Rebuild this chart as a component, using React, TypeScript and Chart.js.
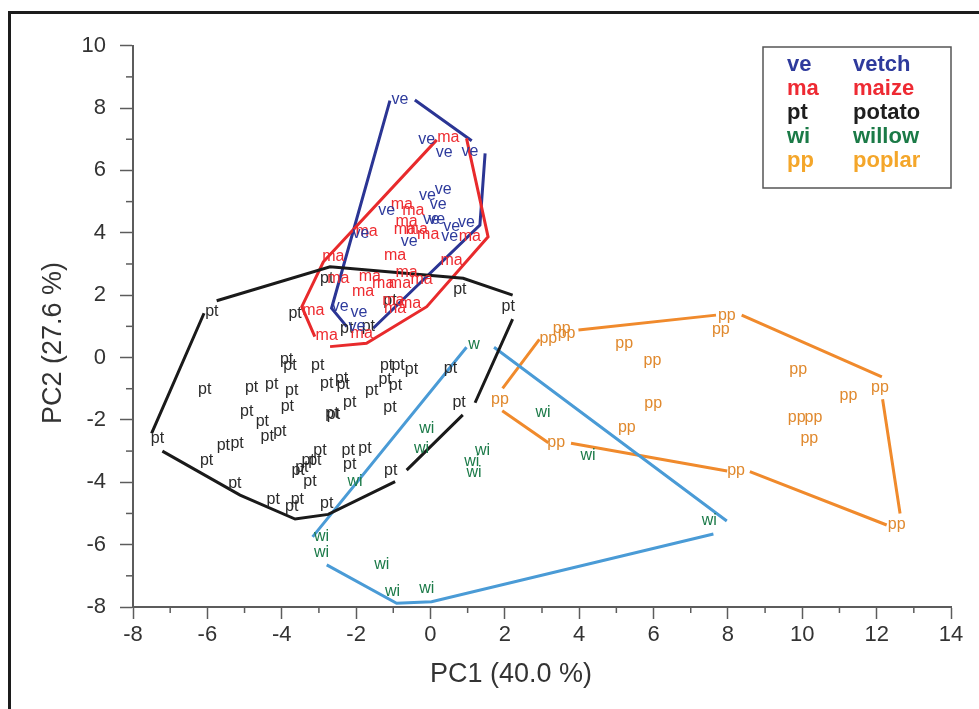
import React, { useEffect, useRef } from "react";
import { Chart, registerables } from "chart.js";

Chart.register(...registerables);

type P = [number, number];

// Axis ranges / ticks
const xRange = [-8, 14];
const yRange = [-8, 10];
const tickStep = 2;

// Legend entries
const legendCodes = ["ve", "ma", "pt", "wi", "pp"];
const legendNames = ["vetch", "maize", "potato", "willow", "poplar"];
const legendColors = ["#2e3a9c", "#ee2a33", "#1e1e1e", "#1b7a47", "#f4a62a"];

// Sample scores (PC1, PC2)
const vetchPts: P[] = [
  [-0.82, 8.26], [-0.10, 7.00], [0.37, 6.57], [1.06, 6.60], [0.34, 5.37], [-0.08, 5.18],
  [0.21, 4.92], [-1.18, 4.71], [0.03, 4.43], [0.17, 4.43], [0.57, 4.19], [0.97, 4.32],
  [0.52, 3.87], [-0.57, 3.71], [-1.87, 3.96], [-2.43, 1.63], [-1.92, 1.45], [-1.98, 0.99],
];
const maizePts: P[] = [
  [0.48, 7.06], [-0.77, 4.92], [-0.46, 4.71], [-0.64, 4.36], [-0.69, 4.11], [-0.37, 4.09],
  [-0.06, 3.93], [1.06, 3.87], [-1.72, 4.03], [-2.61, 3.23], [-0.95, 3.26], [0.57, 3.10],
  [-2.48, 2.54], [-1.63, 2.59], [-0.64, 2.72], [-1.27, 2.36], [-0.82, 2.36], [-0.24, 2.49],
  [-1.81, 2.11], [-1.00, 1.84], [-0.55, 1.74], [-0.95, 1.58], [-3.15, 1.52], [-2.79, 0.70],
  [-1.85, 0.78],
];
const potatoPts: P[] = [
  [-2.79, 2.54], [0.79, 2.19], [2.09, 1.63], [-5.88, 1.47], [-3.64, 1.42], [-1.09, 1.84],
  [-2.25, 0.94], [-1.67, 0.99], [-3.87, -0.08], [-3.78, -0.27], [-3.03, -0.27], [-1.18, -0.27],
  [-0.87, -0.27], [-0.51, -0.40], [0.54, -0.34], [-6.07, -1.04], [-4.81, -0.97], [-4.27, -0.86],
  [-3.73, -1.07], [-2.79, -0.85], [-2.39, -0.66], [-2.35, -0.88], [-1.22, -0.72], [-0.94, -0.89],
  [-1.58, -1.07], [-4.94, -1.73], [-3.85, -1.58], [-2.61, -1.84], [-2.65, -1.81], [-2.17, -1.44],
  [-1.09, -1.62], [0.77, -1.45], [-4.52, -2.06], [-4.39, -2.52], [-4.05, -2.38], [-7.34, -2.59],
  [-5.57, -2.81], [-5.20, -2.75], [-6.02, -3.29], [-2.97, -3.00], [-3.29, -3.29], [-3.56, -3.61],
  [-3.11, -3.29], [-3.46, -3.54], [-2.21, -2.99], [-1.76, -2.91], [-2.17, -3.42], [-3.24, -3.98],
  [-1.07, -3.63], [-5.26, -4.03], [-4.23, -4.55], [-3.73, -4.79], [-3.58, -4.55], [-2.79, -4.68],
];
const willowPts: P[] = [
  [-0.10, -2.27], [-0.24, -2.91], [1.40, -2.97], [1.11, -3.34], [1.17, -3.69],
  [-2.03, -3.98], [-2.93, -5.75], [-2.93, -6.26], [-1.31, -6.65], [-1.02, -7.51], [-0.10, -7.40],
  [3.03, -1.77], [4.24, -3.13], [7.50, -5.24],
];
const willowEdgePts: P[] = [[1.17, 0.40]];
const poplarPts: P[] = [
  [1.87, -1.34], [3.17, 0.62], [3.53, 0.94], [3.66, 0.78], [5.21, 0.46], [5.97, -0.11],
  [7.97, 1.36], [7.81, 0.88], [9.89, -0.38], [11.24, -1.21], [12.09, -0.96], [9.85, -1.93],
  [10.30, -1.93], [10.19, -2.59], [5.99, -1.47], [5.28, -2.25], [3.38, -2.73], [8.22, -3.63],
  [12.54, -5.37],
];

// Group envelopes (broken polylines, null = gap)
const vetchHull: (P | null)[] = [
  [-0.42, 8.26], [1.11, 6.95], null,
  [1.47, 6.55], [1.33, 4.25], [-1.54, 0.94], null,
  [-2.25, 0.99], [-2.66, 1.58], [-1.09, 8.24],
];
const maizeHull: (P | null)[] = [
  [0.17, 6.98], [-2.88, 3.07], [-3.46, 1.63], [-3.11, 0.67], null,
  [-2.70, 0.35], [-1.72, 0.46], [-0.10, 1.63], [1.55, 3.87], [0.97, 7.03],
];
const potatoHull: (P | null)[] = [
  [-5.75, 1.82], [-2.70, 2.91], [0.88, 2.54], [2.21, 2.00], null,
  [2.21, 1.23], [1.20, -1.45], null,
  [0.87, -1.84], [-0.64, -3.61], null,
  [-0.95, -3.98], [-2.75, -5.03], [-3.64, -5.18], [-5.12, -4.41], [-7.21, -3.00], null,
  [-7.50, -2.43], [-6.09, 1.42],
];
const willowHull: (P | null)[] = [
  [-3.17, -5.75], [0.97, 0.33], null,
  [1.71, 0.33], [7.97, -5.24], null,
  [7.61, -5.66], [0.03, -7.83], [-0.91, -7.88], [-2.79, -6.65],
];
const poplarHull: (P | null)[] = [
  [1.94, -0.99], [2.93, 0.58], null,
  [3.98, 0.88], [7.68, 1.36], null,
  [8.37, 1.36], [12.14, -0.62], null,
  [12.16, -1.34], [12.63, -5.00], null,
  [12.27, -5.37], [8.59, -3.66], null,
  [7.98, -3.64], [3.78, -2.75], null,
  [3.17, -2.73], [1.93, -1.71],
];

const FONT = "'Liberation Sans', Arial, sans-serif";

function toLine(h: (P | null)[]) {
  let lastX = 0;
  return h.map((p) => {
    if (p) {
      lastX = p[0];
      return { x: p[0], y: p[1] };
    }
    return { x: lastX, y: null as any };
  });
}
function toPts(a: P[]) {
  return a.map((p) => ({ x: p[0], y: p[1] }));
}

export default function App() {
  const ref = useRef<HTMLCanvasElement>(null);

  useEffect(() => {
    if (!ref.current) return;

    const hull = (data: (P | null)[], color: string) => ({
      type: "scatter" as const,
      data: toLine(data),
      showLine: true,
      spanGaps: false,
      borderColor: color,
      borderWidth: 3,
      pointRadius: 0,
      pointHoverRadius: 0,
      fill: false,
      tension: 0,
    });
    const pts = (data: P[], code: string, color: string) => ({
      type: "scatter" as const,
      data: toPts(data),
      pointRadius: 0,
      pointHoverRadius: 0,
      code,
      textColor: color,
    });

    const framePlugin = {
      id: "frame",
      beforeDraw(chart: any) {
        const ctx = chart.ctx;
        ctx.save();
        ctx.fillStyle = "#ffffff";
        ctx.fillRect(0, 0, chart.width, chart.height);
        ctx.fillStyle = "#1c1c1c";
        ctx.fillRect(8, 11, 3, chart.height);
        ctx.fillRect(8, 11, chart.width, 3);
        ctx.restore();
      },
    };

    const labelPlugin = {
      id: "textPoints",
      afterDatasetsDraw(chart: any) {
        const ctx = chart.ctx;
        ctx.save();
        ctx.font = `16px ${FONT}`;
        ctx.textAlign = "center";
        ctx.textBaseline = "middle";
        chart.data.datasets.forEach((ds: any, i: number) => {
          if (!ds.code) return;
          ctx.fillStyle = ds.textColor;
          chart.getDatasetMeta(i).data.forEach((el: any) => {
            ctx.fillText(ds.code, el.x, el.y);
          });
        });
        ctx.restore();
      },
    };

    const decorPlugin = {
      id: "decor",
      afterDraw(chart: any) {
        const ctx = chart.ctx;
        const xs = chart.scales.x;
        const ys = chart.scales.y;
        const area = chart.chartArea;
        ctx.save();
        // minor ticks
        ctx.strokeStyle = "#5c5c5c";
        ctx.lineWidth = 1.5;
        for (let v = xRange[0] + 1; v < xRange[1]; v += 2) {
          const px = xs.getPixelForValue(v);
          ctx.beginPath();
          ctx.moveTo(px, area.bottom);
          ctx.lineTo(px, area.bottom + 6);
          ctx.stroke();
        }
        for (let v = yRange[0] + 1; v < yRange[1]; v += 2) {
          const py = ys.getPixelForValue(v);
          ctx.beginPath();
          ctx.moveTo(area.left - 7, py);
          ctx.lineTo(area.left, py);
          ctx.stroke();
        }
        // axis titles
        ctx.fillStyle = "#333333";
        ctx.font = `27px ${FONT}`;
        ctx.textAlign = "center";
        ctx.textBaseline = "middle";
        ctx.fillText("PC1 (40.0 %)", 511, 675);
        ctx.save();
        ctx.translate(54, 343);
        ctx.rotate(-Math.PI / 2);
        ctx.fillText("PC2 (27.6 %)", 0, 0);
        ctx.restore();
        // legend
        ctx.strokeStyle = "#555555";
        ctx.lineWidth = 1.5;
        ctx.strokeRect(763, 47, 188, 141);
        ctx.font = `bold 22px ${FONT}`;
        ctx.textAlign = "left";
        ctx.textBaseline = "alphabetic";
        legendCodes.forEach((c, i) => {
          ctx.fillStyle = legendColors[i];
          const y = 71 + i * 24;
          ctx.fillText(c, 787, y);
          ctx.fillText(legendNames[i], 853, y);
        });
        ctx.restore();
      },
    };

    const tickFont = { family: FONT, size: 22 };

    const chart = new Chart(ref.current, {
      type: "scatter",
      data: {
        datasets: [
          hull(potatoHull, "#1a1a1a"),
          hull(willowHull, "#4a9bd6"),
          hull(poplarHull, "#f08a2c"),
          hull(maizeHull, "#e82a2c"),
          hull(vetchHull, "#2b3594"),
          pts(potatoPts, "pt", "#2a2a2a"),
          pts(willowPts, "wi", "#1b7a48"),
          pts(willowEdgePts, "w", "#1b7a48"),
          pts(poplarPts, "pp", "#e0892e"),
          pts(maizePts, "ma", "#ee2b30"),
          pts(vetchPts, "ve", "#2e3b9c"),
        ] as any,
      },
      options: {
        responsive: false,
        animation: false,
        events: [],
        layout: { padding: { left: 0, right: 28, top: 45.7, bottom: 0 } },
        plugins: { legend: { display: false }, tooltip: { enabled: false } },
        scales: {
          x: {
            type: "linear",
            min: xRange[0],
            max: xRange[1],
            afterFit: (s: any) => {
              s.height = 102;
            },
            ticks: { stepSize: tickStep, font: tickFont, color: "#333333", padding: 3 },
            grid: {
              drawOnChartArea: false,
              drawTicks: true,
              tickLength: 12,
              tickColor: "#5c5c5c",
              tickWidth: 1.5,
            },
            border: { color: "#5c5c5c", width: 2 },
          },
          y: {
            type: "linear",
            min: yRange[0],
            max: yRange[1],
            afterFit: (s: any) => {
              s.width = 133;
            },
            ticks: { stepSize: tickStep, font: tickFont, color: "#333333", padding: 14 },
            grid: {
              drawOnChartArea: false,
              drawTicks: true,
              tickLength: 13,
              tickColor: "#5c5c5c",
              tickWidth: 1.5,
            },
            border: { color: "#5c5c5c", width: 2 },
          },
        },
      } as any,
      plugins: [framePlugin, labelPlugin, decorPlugin],
    });

    return () => chart.destroy();
  }, []);

  return (
    <div style={{ position: "absolute", left: 0, top: 0, width: 979, height: 709 }}>
      <canvas ref={ref} width={979} height={709} style={{ display: "block" }} />
    </div>
  );
}
